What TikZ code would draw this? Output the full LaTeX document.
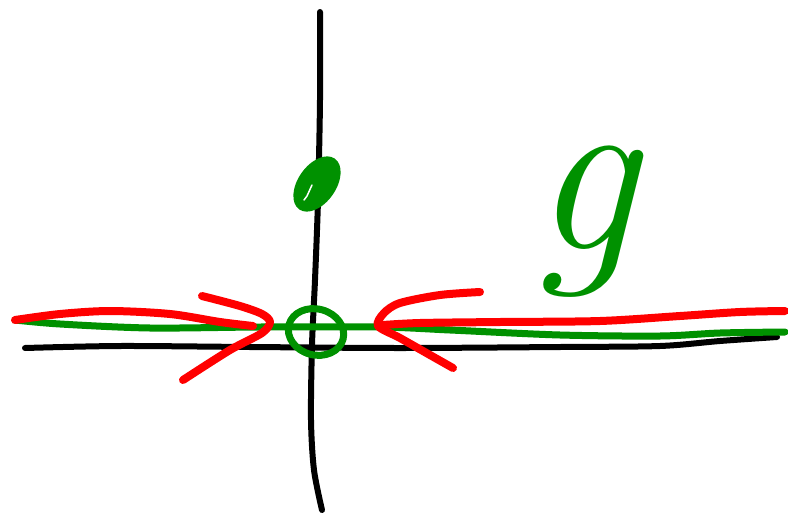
\documentclass[tikz,border=0pt]{standalone}
\definecolor{penGreen}{RGB}{0,145,0}
\definecolor{penRed}{RGB}{255,0,0}
\tikzset{
  pen/.style={line cap=round, line join=round},
  axisPen/.style={pen, black, line width=6pt},
  redPen/.style={pen, penRed, line width=8pt},
  greenPen/.style={pen, penGreen, line width=7pt}
}
\begin{document}
\begin{tikzpicture}[x=1pt, y=-1pt]
\useasboundingbox[fill=white] (0,0) rectangle (788,517);
% axes
\draw[axisPen] plot[smooth] coordinates {(320,12) (320,100) (318,200) (315,280) (312,345) (311,420) (314,470) (322,510)};
\draw[axisPen] plot[smooth] coordinates {(25,348) (120,346) (250,347) (400,348) (560,347) (660,346) (720,341) (777,337)};
% green line
\draw[greenPen] plot[smooth] coordinates {(15,320) (60,324) (150,328) (260,327) (380,327) (450,330) (560,335) (660,336) (720,333) (785,332)};
% red lines and arrows
\draw[redPen] plot[smooth] coordinates {(15,320) (60,314) (110,311) (170,314) (220,322) (253,326)};
\draw[redPen] plot[smooth] coordinates {(202,296) (240,306) (262,314) (270,322) (262,333) (230,350) (183,380)};
\draw[redPen] plot[smooth] coordinates {(480,292) (440,295) (400,303) (384,313) (378,326) (400,338) (430,355) (453,368)};
\draw[redPen] plot[smooth] coordinates {(383,325) (420,323) (500,322) (600,321) (680,316) (740,312) (785,311)};
% green circle at origin
\draw[greenPen, rotate around={-15:(316,332)}] (316,332) ellipse [x radius=28pt, y radius=23pt];
% green filled dot
\fill[penGreen, rotate around={55:(317,184)}] (317,184) ellipse [x radius=31pt, y radius=19pt];
\draw[white, line width=1.5pt, line cap=round] (312,185) -- (307,196) -- (304,200);
% label g
\node[text=penGreen, anchor=base, inner sep=0pt, font=\fontsize{235}{235}\selectfont\itshape] (glabel) at (584,249) {g};
\end{tikzpicture}
\end{document}
